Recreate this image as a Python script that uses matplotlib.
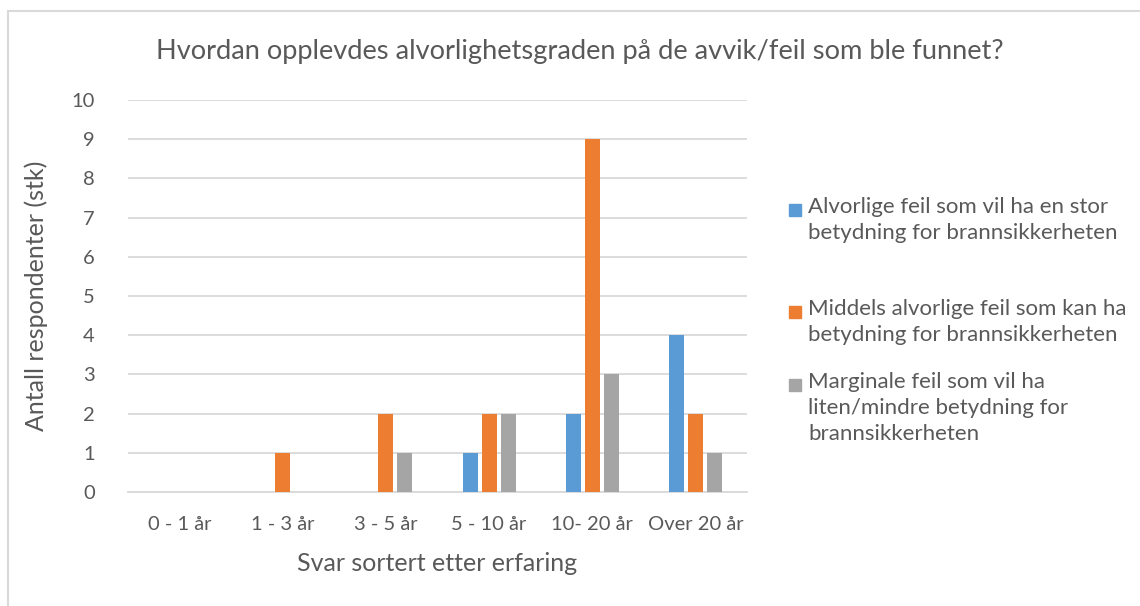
import matplotlib
matplotlib.use("Agg")
import matplotlib.pyplot as plt
from matplotlib.patches import Rectangle
import numpy as np

categories = ["0 - 1 år", "1 - 3 år", "3 - 5 år", "5 - 10 år", "10- 20 år", "Over 20 år"]
alvorlige = [0, 0, 0, 1, 2, 4]
middels = [0, 1, 2, 2, 9, 2]
marginale = [0, 0, 1, 2, 3, 1]
series_labels = [
    "Alvorlige feil som vil ha en stor\nbetydning for brannsikkerheten",
    "Middels alvorlige feil som kan ha\nbetydning for brannsikkerheten",
    "Marginale feil som vil ha\nliten/mindre betydning for\nbrannsikkerheten",
]
colors = ["#5B9BD5", "#ED7D31", "#A5A5A5"]
title = "Hvordan opplevdes alvorlighetsgraden på de avvik/feil som ble funnet?"
xlabel = "Svar sortert etter erfaring"
ylabel = "Antall respondenter (stk)"

plt.rcParams['font.family'] = ['Lato', 'DejaVu Sans']
txt = "#595959"

W, H = 1140, 606
fig = plt.figure(figsize=(W / 100, H / 100), dpi=100)
ax = fig.add_axes([128 / W, 1 - 492 / H, (747 - 128) / W, (492 - 100) / H])

x = np.arange(len(categories))
bw = 0.145
step = 0.184
for i, vals in enumerate([alvorlige, middels, marginale]):
    ax.bar(x + (i - 1) * step, vals, width=bw, color=colors[i], zorder=3)

ax.set_xlim(-0.5, len(categories) - 0.5)
ax.set_ylim(0, 10)
ax.set_yticks(range(0, 11))
ax.set_xticks(x)
ax.set_xticklabels(categories)
ax.yaxis.grid(True, color="#D9D9D9", linewidth=1.3, zorder=0)
ax.set_axisbelow(True)
for s in ["top", "right", "left"]:
    ax.spines[s].set_visible(False)
ax.spines["bottom"].set_color("#D9D9D9")
ax.spines["bottom"].set_linewidth(1.3)
ax.tick_params(axis="both", length=0, labelsize=14.5, labelcolor=txt)
ax.tick_params(axis="y", pad=24)
ax.tick_params(axis="x", pad=17)
ax.set_xlabel(xlabel, fontsize=18, color=txt, labelpad=14)
ax.set_ylabel(ylabel, fontsize=18, color=txt, labelpad=17)

fig.text(580 / W, 1 - 52 / H, title, fontsize=19.6, color=txt, ha="center", va="center")

# legend (manual, handle aligned with first line)
leg_y = [210, 312, 385]
for lab, c, y in zip(series_labels, colors, leg_y):
    fig.patches.append(Rectangle((789 / W, 1 - (y + 6) / H), 12 / W, 12 / H,
                                 transform=fig.transFigure, color=c))
    fig.text(808 / W, 1 - (y - 13) / H, lab, fontsize=16, color=txt,
             ha="left", va="top", linespacing=1.36)

# chart border
fig.patches.append(Rectangle((8 / W, -0.1), 1.2, 1 - 11 / H + 0.1, transform=fig.transFigure,
                             fill=False, edgecolor="#D9D9D9", linewidth=1.5))

fig.savefig("out.png", dpi=100, facecolor="white")
